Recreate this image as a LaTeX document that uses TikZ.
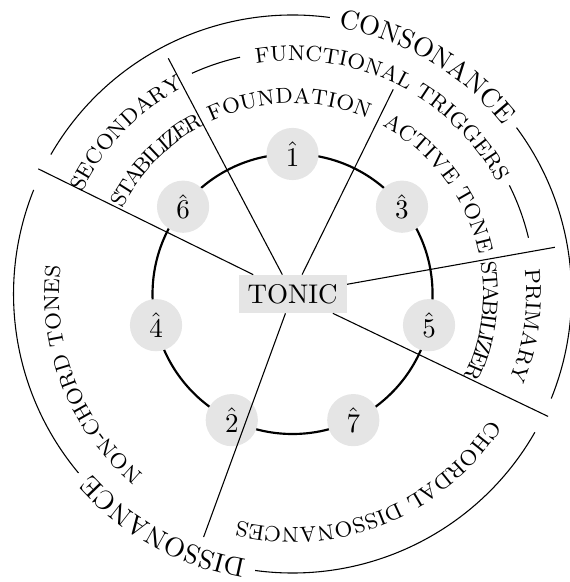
\documentclass[tikz,border=0pt]{standalone}
\usepackage{amsmath}
\usepackage{tikz}
\usetikzlibrary{decorations.text}
\tikzset{
  deg/.style     ={circle,fill=gray!20,minimum size=6.8mm,inner sep=0pt},
  tonic/.style   ={rectangle,fill=gray!20},
  ring/.style    ={line width=0.4pt},
  divider/.style ={line width=0.4pt},
  ringtext/.style={decorate,decoration={text along path,text align=center}},
  letter/.style  ={inner sep=0pt,anchor=base,font=\footnotesize},
}

\begin{document}
\begin{tikzpicture}
  \useasboundingbox (-3.809,-3.750) rectangle (3.600,3.828);
  % circle of thirds
  \draw[thick] (0,0) circle (1.823);
  \foreach \d [count=\i from 0] in {1,3,5,7,2,4,6}{\node[deg](s\d) at ({90-\i*360/7}:1.823){$\hat{\d}$};}
  \node[tonic](tonic) at (0,0){TONIC};
  % sector dividers
  \coordinate (cons-w) at (153.8:3.69);  \coordinate (cons-e) at (-25.6:3.69);
  \coordinate (trig-w) at (117.8:3.47);  \coordinate (trig-e) at (10.1:3.47);
  \coordinate (found-e) at (63.8:2.97);  \coordinate (diss-s) at (-110.1:3.37);
  \foreach \e in {cons-w,cons-e,trig-w,trig-e,found-e,diss-s}{\draw[divider](tonic)--(\e);}
  % outer ring
  \draw[ring] (150:3.633) arc[start angle=150,end angle=82.3,radius=3.633];
  \draw[ring] (36.6:3.633) arc[start angle=36.6,end angle=-22,radius=3.633];
  \draw[ring] (158.1:3.633) arc[start angle=158.1,end angle=219.9,radius=3.633];
  \draw[ring] (262.3:3.633) arc[start angle=262.3,end angle=330.3,radius=3.633];
  \path[ringtext,decoration={text={CONSONANCE}}] (119.5:3.513) arc[start angle=119.5,end angle=-0.5,radius=3.513];
  \path[ringtext,decoration={text={DISSONANCE}}] (301:3.513) arc[start angle=301,end angle=181,radius=3.513];
  % middle ring
  \draw[ring] (114.5:3.158) arc[start angle=114.5,end angle=102.5,radius=3.158];
  \draw[ring] (26.6:3.158) arc[start angle=26.6,end angle=13.4,radius=3.158];
  \path[ringtext,decoration={text={|\footnotesize|FUNCTIONAL TRIGGERS}}] (123.75:3.042) arc[start angle=123.75,end angle=3.75,radius=3.042];
  \path[ringtext,decoration={text={|\footnotesize|SECONDARY}}] (196:3.042) arc[start angle=196,end angle=76,radius=3.042];
  \path[ringtext,decoration={text={|\footnotesize|PRIMARY}}] (52.25:3.042) arc[start angle=52.25,end angle=-67.75,radius=3.042];
  \path[ringtext,decoration={text={|\footnotesize|CHORDAL DISSONANCES}}] (-8:3.042) arc[start angle=-8,end angle=-128,radius=3.042];
  \path[ringtext,decoration={text={|\footnotesize|NON-CHORD TONES}}] (261.8:3.042) arc[start angle=261.8,end angle=141.8,radius=3.042];
  % inner ring
  \path[ringtext,decoration={text={|\footnotesize|FOUNDATION}}] (151:2.482) arc[start angle=151,end angle=31,radius=2.482];
  \path[ringtext,decoration={text={|\footnotesize|ACTIVE TONE}}] (97:2.482) arc[start angle=97,end angle=-23,radius=2.482];
  % squeezed STABILIZER labels, letter by letter
  \foreach \s [count=\j] in {152.9,9.3}{
    \foreach \c/\o [count=\k] in {S/1.58,T/5.21,A/9.39,B/13.52,I/16.56,L/19.36,I/22.16,Z/24.91,E/28.58,R/32.60}{
      \node[letter,rotate=\s-\o-90](st\j-\k) at ({\s-\o}:2.482){\c};}}
\end{tikzpicture}
\end{document}
